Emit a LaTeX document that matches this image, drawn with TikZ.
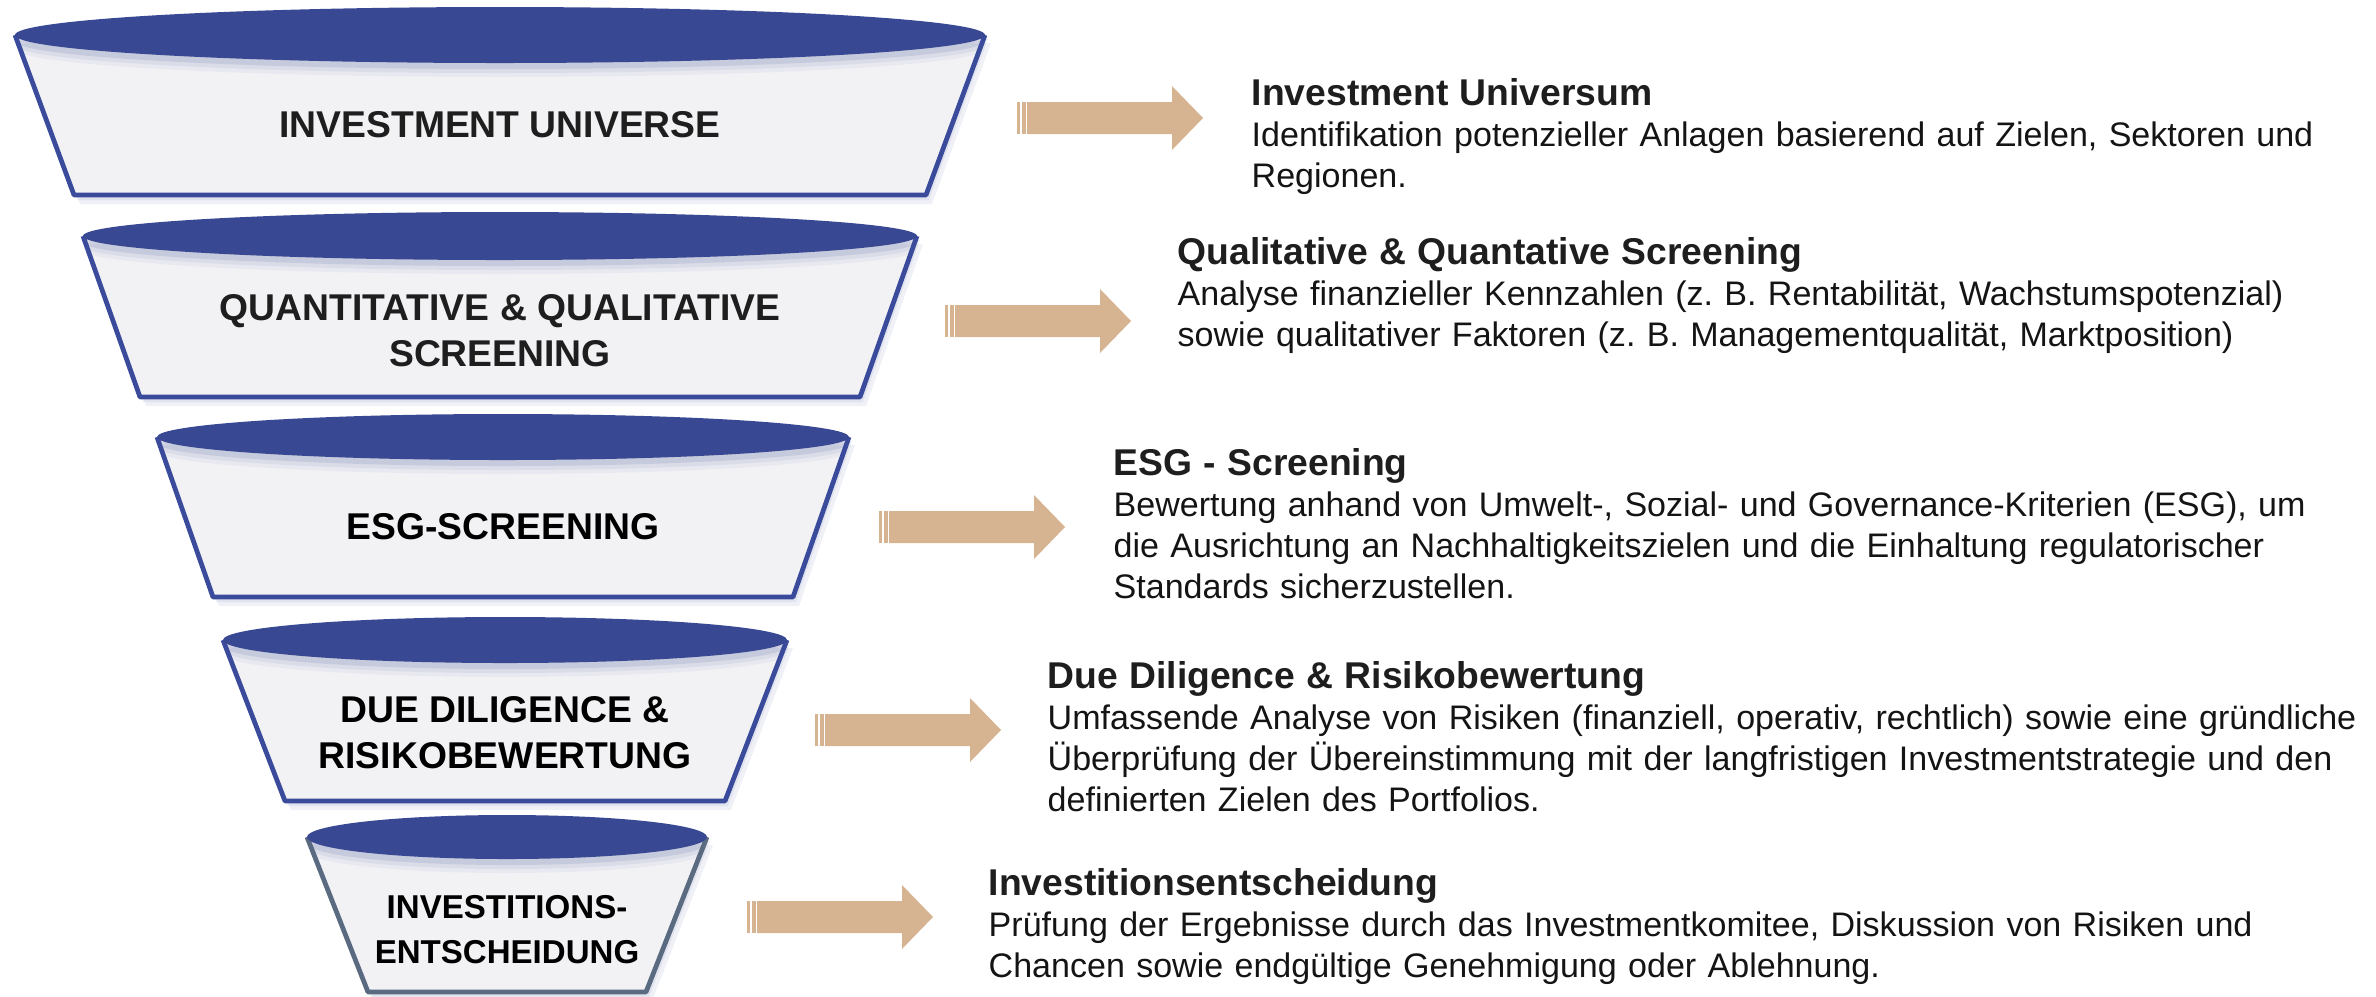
\documentclass[tikz,border=0pt]{standalone}
\usepackage{fontspec}
\setmainfont{Liberation Sans}
\usepackage{xcolor}
\definecolor{funnelblue}{HTML}{394893}
\definecolor{funneledge}{HTML}{3B4B9B}
\definecolor{funnelgray}{HTML}{5A6A80}
\definecolor{funnelbody}{HTML}{F2F2F5}
\definecolor{arrowtan}{HTML}{D6B391}
\definecolor{labeltext}{HTML}{1E1E1E}
\newcommand{\desctitle}[1]{{\fontsize{10.6}{11.7}\selectfont\bfseries\color{labeltext}#1}}

\begin{document}
\begin{tikzpicture}[x=0.01cm, y=-0.01cm,
  seglabel/.style={align=center, inner sep=0pt, text=labeltext, font=\fontsize{10.6}{13.1}\selectfont\bfseries},
  desc/.style={anchor=base west, align=left, text width=14cm, inner sep=0pt, text=black!92, font=\fontsize{9.68}{11.7}\selectfont}]
\useasboundingbox (0,0) rectangle (2376,996);

% funnel
\foreach \cx/\cy/\rx/\ry/\by/\bw/\bc in {500/35/485/28/195/426/funneledge, 500/236/417/24/397/360/funneledge, 503/437/346/23/597/290/funneledge, 505/640/282/23/801/220/funneledge, 507/837/200/22/992/139/funnelgray}{
  \fill[funnelblue, opacity=0.08] (\cx-\rx+6,\cy+8) -- (\cx-\bw+6,\by+9) -- (\cx+\bw+6,\by+9) -- (\cx+\rx+6,\cy+8) -- cycle;
  \fill[funnelblue, opacity=0.08] (\cx-\rx+3,\cy+4) -- (\cx-\bw+3,\by+5) -- (\cx+\bw+3,\by+5) -- (\cx+\rx+3,\cy+4) -- cycle;
  \fill[funnelbody] (\cx-\rx,\cy) -- (\cx-\bw,\by) -- (\cx+\bw,\by) -- (\cx+\rx,\cy) -- cycle;
  \begin{scope}
    \clip (\cx-\rx,\cy) -- (\cx-\bw,\by) -- (\cx+\bw,\by) -- (\cx+\rx,\cy) -- cycle;
    \foreach \s/\o in {14/0.05, 10/0.08, 6/0.12}
      \fill[funnelblue, opacity=\o] (\cx,\cy+\s) ellipse ({\rx} and {\ry});
  \end{scope}
  \draw[\bc, line width=1.35pt, line join=round] (\cx-\rx,\cy) -- (\cx-\bw,\by) -- (\cx+\bw,\by) -- (\cx+\rx,\cy);
  \fill[funnelblue] (\cx,\cy) ellipse ({\rx} and {\ry});
}

\node[seglabel] (seg1) at (500,125) {INVESTMENT UNIVERSE};
\node[seglabel] (seg2) at (500,331) {QUANTITATIVE \& QUALITATIVE\\SCREENING};
\node[seglabel, text=black] (seg3) at (503,527) {ESG-SCREENING};
\node[seglabel, text=black] (seg4) at (505,733) {DUE DILIGENCE \&\\RISIKOBEWERTUNG};
\node[seglabel, text=black, font=\fontsize{9.4}{12.8}\selectfont\bfseries] (seg5) at (507,930) {INVESTITIONS-\\ENTSCHEIDUNG};

% arrows
\foreach \ax/\ay in {1017/118, 945/321, 879/527, 815/730, 747/917}{
  \fill[arrowtan] (\ax,\ay-16) rectangle (\ax+2.5,\ay+16);
  \fill[arrowtan] (\ax+4.5,\ay-16) rectangle (\ax+8.5,\ay+16);
  \fill[arrowtan] (\ax+10,\ay-16) -- (\ax+155,\ay-16) -- (\ax+155,\ay-32) -- (\ax+186,\ay)
    -- (\ax+155,\ay+32) -- (\ax+155,\ay+16) -- (\ax+10,\ay+16) -- cycle;
}

% descriptions
\node[desc] (desc1) at (1251,105) {\desctitle{Investment Universum}\\Identifikation potenzieller Anlagen basierend auf Zielen, Sektoren und\\Regionen.};
\node[desc] (desc2) at (1177,264) {\desctitle{Qualitative \& Quantative Screening}\\Analyse finanzieller Kennzahlen (z.\ B. Rentabilität, Wachstumspotenzial)\\sowie qualitativer Faktoren (z.\ B. Managementqualität, Marktposition)};
\node[desc] (desc3) at (1113,475) {\desctitle{ESG - Screening}\\Bewertung anhand von Umwelt-, Sozial- und Governance-Kriterien (ESG), um\\die Ausrichtung an Nachhaltigkeitszielen und die Einhaltung regulatorischer\\Standards sicherzustellen.};
\node[desc] (desc4) at (1047,688) {\desctitle{Due Diligence \& Risikobewertung}\\Umfassende Analyse von Risiken (finanziell, operativ, rechtlich) sowie eine gründliche\\Überprüfung der Übereinstimmung mit der langfristigen Investmentstrategie und den\\definierten Zielen des Portfolios.};
\node[desc] (desc5) at (988,895) {\desctitle{Investitionsentscheidung}\\Prüfung der Ergebnisse durch das Investmentkomitee, Diskussion von Risiken und\\Chancen sowie endgültige Genehmigung oder Ablehnung.};
\end{tikzpicture}
\end{document}
